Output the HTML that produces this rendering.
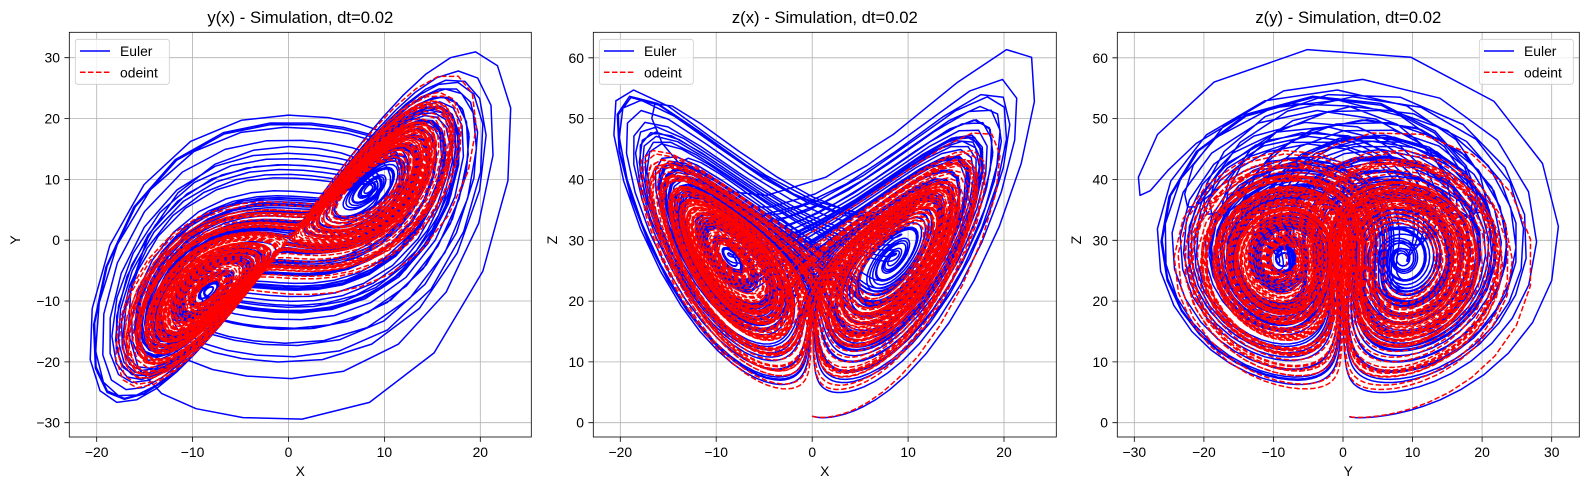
<!DOCTYPE html>
<html><head><meta charset="utf-8"><style>
html,body{margin:0;padding:0;background:#fff;}
svg{display:block;font-family:"Liberation Sans","DejaVu Sans",sans-serif;}
</style></head><body>
<svg id="s" width="1589" height="490" viewBox="0 0 1589 490" xmlns="http://www.w3.org/2000/svg">
<defs>
<clipPath id="c1"><rect x="69.3" y="32.3" width="462" height="404.7"/></clipPath>
<clipPath id="c2"><rect x="593.3" y="32.3" width="463" height="404.7"/></clipPath>
<clipPath id="c3"><rect x="1117.3" y="32.3" width="462" height="404.7"/></clipPath>
</defs>
<g stroke="#b0b0b0" stroke-width="0.8">
<!-- panel1 grid -->
<line x1="96.7" y1="32.3" x2="96.7" y2="437"/><line x1="192.6" y1="32.3" x2="192.6" y2="437"/><line x1="288.5" y1="32.3" x2="288.5" y2="437"/><line x1="384.4" y1="32.3" x2="384.4" y2="437"/><line x1="480.3" y1="32.3" x2="480.3" y2="437"/>
<line x1="69.3" y1="57.7" x2="531.3" y2="57.7"/><line x1="69.3" y1="118.5" x2="531.3" y2="118.5"/><line x1="69.3" y1="179.4" x2="531.3" y2="179.4"/><line x1="69.3" y1="240.2" x2="531.3" y2="240.2"/><line x1="69.3" y1="301" x2="531.3" y2="301"/><line x1="69.3" y1="361.9" x2="531.3" y2="361.9"/><line x1="69.3" y1="422.7" x2="531.3" y2="422.7"/>
<!-- panel2 grid -->
<line x1="620.3" y1="32.3" x2="620.3" y2="437"/><line x1="716.2" y1="32.3" x2="716.2" y2="437"/><line x1="812.2" y1="32.3" x2="812.2" y2="437"/><line x1="908.1" y1="32.3" x2="908.1" y2="437"/><line x1="1004" y1="32.3" x2="1004" y2="437"/>
<line x1="593.3" y1="422.7" x2="1056.3" y2="422.7"/><line x1="593.3" y1="361.9" x2="1056.3" y2="361.9"/><line x1="593.3" y1="301.1" x2="1056.3" y2="301.1"/><line x1="593.3" y1="240.3" x2="1056.3" y2="240.3"/><line x1="593.3" y1="179.5" x2="1056.3" y2="179.5"/><line x1="593.3" y1="118.6" x2="1056.3" y2="118.6"/><line x1="593.3" y1="57.8" x2="1056.3" y2="57.8"/>
<!-- panel3 grid -->
<line x1="1134.3" y1="32.3" x2="1134.3" y2="437"/><line x1="1203.9" y1="32.3" x2="1203.9" y2="437"/><line x1="1273.4" y1="32.3" x2="1273.4" y2="437"/><line x1="1343" y1="32.3" x2="1343" y2="437"/><line x1="1412.6" y1="32.3" x2="1412.6" y2="437"/><line x1="1482.1" y1="32.3" x2="1482.1" y2="437"/><line x1="1551.7" y1="32.3" x2="1551.7" y2="437"/>
<line x1="1117.3" y1="422.7" x2="1579.3" y2="422.7"/><line x1="1117.3" y1="361.9" x2="1579.3" y2="361.9"/><line x1="1117.3" y1="301.1" x2="1579.3" y2="301.1"/><line x1="1117.3" y1="240.3" x2="1579.3" y2="240.3"/><line x1="1117.3" y1="179.5" x2="1579.3" y2="179.5"/><line x1="1117.3" y1="118.6" x2="1579.3" y2="118.6"/><line x1="1117.3" y1="57.8" x2="1579.3" y2="57.8"/>
</g>
<g id="d1" clip-path="url(#c1)"></g>
<g id="d2" clip-path="url(#c2)"></g>
<g id="d3" clip-path="url(#c3)"></g>
<g fill="none" stroke="#000" stroke-width="0.8">
<rect x="69.3" y="32.3" width="462" height="404.7"/>
<rect x="593.3" y="32.3" width="463" height="404.7"/>
<rect x="1117.3" y="32.3" width="462" height="404.7"/>
<path d="M96.7 437v4.9M192.6 437v4.9M288.5 437v4.9M384.4 437v4.9M480.3 437v4.9M69.3 57.7h-4.9M69.3 118.5h-4.9M69.3 179.4h-4.9M69.3 240.2h-4.9M69.3 301h-4.9M69.3 361.9h-4.9M69.3 422.7h-4.9"/>
<path d="M620.3 437v4.9M716.2 437v4.9M812.2 437v4.9M908.1 437v4.9M1004 437v4.9M593.3 422.7h-4.9M593.3 361.9h-4.9M593.3 301.1h-4.9M593.3 240.3h-4.9M593.3 179.5h-4.9M593.3 118.6h-4.9M593.3 57.8h-4.9"/>
<path d="M1134.3 437v4.9M1203.9 437v4.9M1273.4 437v4.9M1343 437v4.9M1412.6 437v4.9M1482.1 437v4.9M1551.7 437v4.9M1117.3 422.7h-4.9M1117.3 361.9h-4.9M1117.3 301.1h-4.9M1117.3 240.3h-4.9M1117.3 179.5h-4.9M1117.3 118.6h-4.9M1117.3 57.8h-4.9"/>
</g>
<g font-size="13.9" fill="#000" text-anchor="middle">
<text x="96.7" y="457">−20</text><text x="192.6" y="457">−10</text><text x="288.5" y="457">0</text><text x="384.4" y="457">10</text><text x="480.3" y="457">20</text>
<text x="620.3" y="457">−20</text><text x="716.2" y="457">−10</text><text x="812.2" y="457">0</text><text x="908.1" y="457">10</text><text x="1004" y="457">20</text>
<text x="1134.3" y="457">−30</text><text x="1203.9" y="457">−20</text><text x="1273.4" y="457">−10</text><text x="1343" y="457">0</text><text x="1412.6" y="457">10</text><text x="1482.1" y="457">20</text><text x="1551.7" y="457">30</text>
<text x="300.3" y="476">X</text><text x="824.8" y="476">X</text><text x="1348.3" y="476">Y</text>
<text x="20" y="240" transform="rotate(-90 20 240)">Y</text>
<text x="557" y="240" transform="rotate(-90 557 240)">Z</text>
<text x="1081" y="240" transform="rotate(-90 1081 240)">Z</text>
<text x="300.3" y="23" font-size="16.7">y(x) - Simulation, dt=0.02</text>
<text x="824.8" y="23" font-size="16.7">z(x) - Simulation, dt=0.02</text>
<text x="1348.3" y="23" font-size="16.7">z(y) - Simulation, dt=0.02</text>
</g>
<g font-size="13.9" fill="#000" text-anchor="end">
<text x="60" y="62.7">30</text><text x="60" y="123.5">20</text><text x="60" y="184.4">10</text><text x="60" y="245.2">0</text><text x="60" y="306">−10</text><text x="60" y="366.9">−20</text><text x="60" y="427.7">−30</text>
<text x="584" y="62.8">60</text><text x="584" y="123.6">50</text><text x="584" y="184.5">40</text><text x="584" y="245.3">30</text><text x="584" y="306.1">20</text><text x="584" y="366.9">10</text><text x="584" y="427.7">0</text>
<text x="1108" y="62.8">60</text><text x="1108" y="123.6">50</text><text x="1108" y="184.5">40</text><text x="1108" y="245.3">30</text><text x="1108" y="306.1">20</text><text x="1108" y="366.9">10</text><text x="1108" y="427.7">0</text>
</g>
<g font-size="13.9" fill="#000">
<rect x="75.3" y="39.3" width="94" height="45" rx="2.5" fill="#fff" fill-opacity="0.8" stroke="#ccc" stroke-width="0.8"/>
<line x1="80" y1="51" x2="110" y2="51" stroke="#0000ff" stroke-width="1.5"/>
<line x1="80" y1="72.3" x2="110" y2="72.3" stroke="#ff0000" stroke-width="1.5" stroke-dasharray="5.55 2.4"/>
<text x="120" y="56">Euler</text><text x="120" y="77.3">odeint</text>
<rect x="599.3" y="39.3" width="94" height="45" rx="2.5" fill="#fff" fill-opacity="0.8" stroke="#ccc" stroke-width="0.8"/>
<line x1="604" y1="51" x2="634" y2="51" stroke="#0000ff" stroke-width="1.5"/>
<line x1="604" y1="72.3" x2="634" y2="72.3" stroke="#ff0000" stroke-width="1.5" stroke-dasharray="5.55 2.4"/>
<text x="644" y="56">Euler</text><text x="644" y="77.3">odeint</text>
<rect x="1479.3" y="39.3" width="94" height="45" rx="2.5" fill="#fff" fill-opacity="0.8" stroke="#ccc" stroke-width="0.8"/>
<line x1="1484" y1="51" x2="1514" y2="51" stroke="#0000ff" stroke-width="1.5"/>
<line x1="1484" y1="72.3" x2="1514" y2="72.3" stroke="#ff0000" stroke-width="1.5" stroke-dasharray="5.55 2.4"/>
<text x="1524" y="56">Euler</text><text x="1524" y="77.3">odeint</text>
</g>
</svg>
<script>
(function(){
var s=10,r=28,b=8/3,dt=0.02,N=5000;
function f(p){return [s*(p[1]-p[0]),p[0]*(r-p[2])-p[1],p[0]*p[1]-b*p[2]];}
var E=[[0,1,1.05]],O=[[0,1,1.05]];
var p=[0,1,1.05];
for(var i=0;i<N;i++){var d=f(p);p=[p[0]+dt*d[0],p[1]+dt*d[1],p[2]+dt*d[2]];E.push(p);}
p=[0,1,1.05];var h=dt/10;
for(var i=0;i<N;i++){
 for(var k=0;k<10;k++){
  var k1=f(p),q=[];
  for(var j=0;j<3;j++)q[j]=p[j]+h/2*k1[j];var k2=f(q);
  for(var j=0;j<3;j++)q[j]=p[j]+h/2*k2[j];var k3=f(q);
  for(var j=0;j<3;j++)q[j]=p[j]+h*k3[j];var k4=f(q);
  var n=[];for(var j=0;j<3;j++)n[j]=p[j]+h/6*(k1[j]+2*k2[j]+2*k3[j]+k4[j]);p=n;
 }
 O.push(p);
}
var P=[
 {g:'d1',a:0,c:1,x0:288.5,sx:9.59,y0:240.2,sy:6.083},
 {g:'d2',a:0,c:2,x0:812.2,sx:9.59,y0:422.7,sy:6.08},
 {g:'d3',a:1,c:2,x0:1343,sx:6.958,y0:422.7,sy:6.08}];
var NS='http://www.w3.org/2000/svg';
P.forEach(function(q){
 var g=document.getElementById(q.g);
 [[E,'#0000ff',null],[O,'#ff0000','5.55 2.4']].forEach(function(t){
  var d='';t[0].forEach(function(pt,i){d+=(i?'L':'M')+(q.x0+q.sx*pt[q.a]).toFixed(1)+' '+(q.y0-q.sy*pt[q.c]).toFixed(1);});
  var el=document.createElementNS(NS,'path');
  el.setAttribute('d',d);el.setAttribute('fill','none');el.setAttribute('stroke',t[1]);
  el.setAttribute('stroke-width','1.5');el.setAttribute('stroke-linejoin','round');
  if(t[2])el.setAttribute('stroke-dasharray',t[2]);
  g.appendChild(el);
 });
});
})();
</script>
</body></html>
